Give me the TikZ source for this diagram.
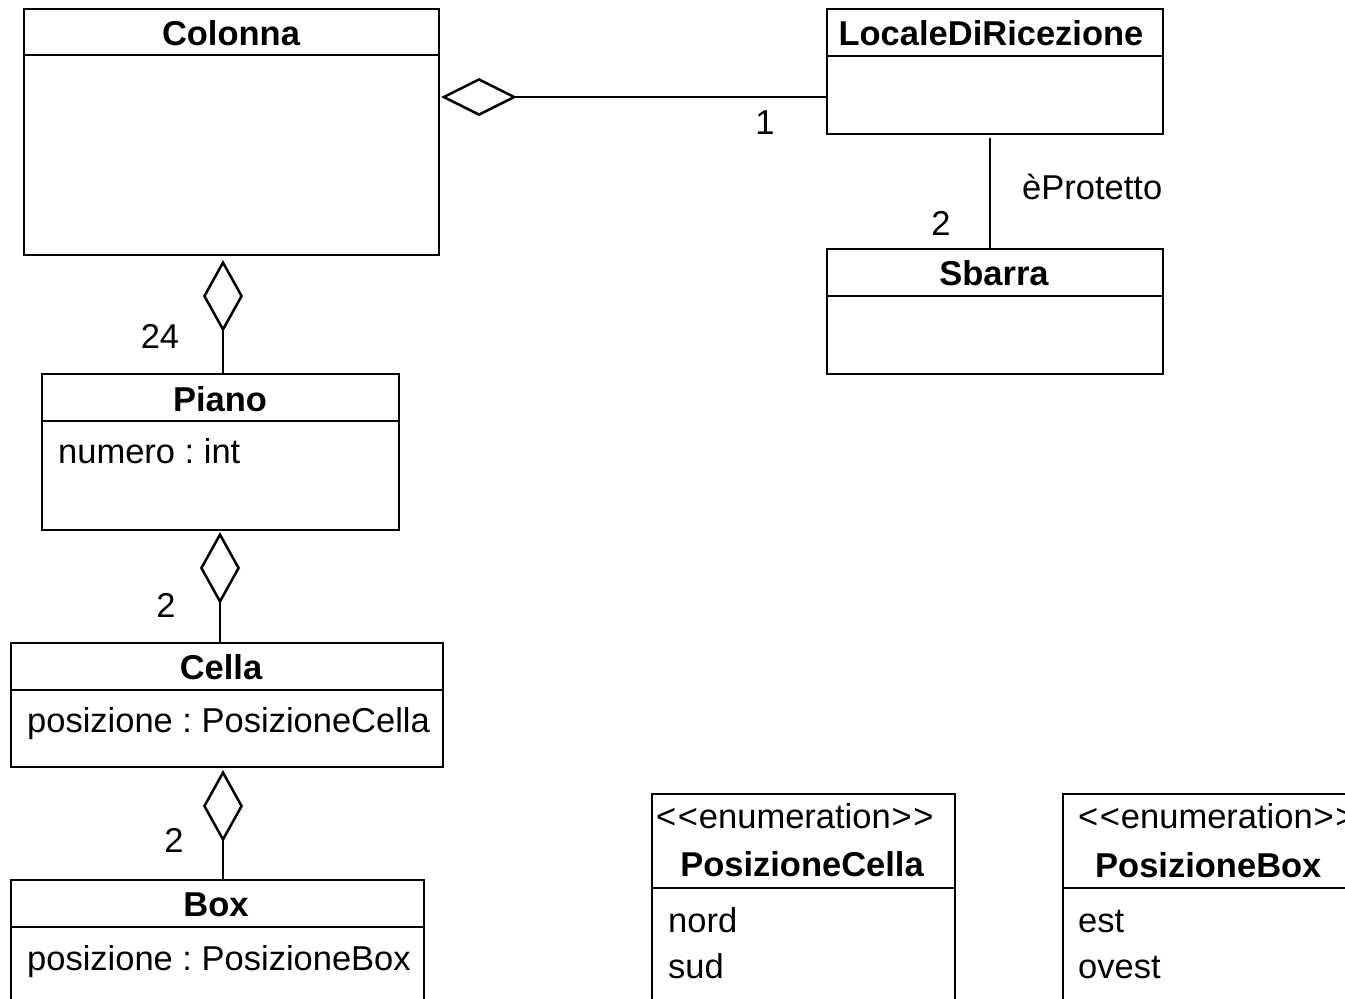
\documentclass[tikz,border=0pt]{standalone}
\usepackage{fontspec}
\setmainfont{Liberation Sans}
\usetikzlibrary{arrows.meta}
\newcommand{\stereo}[1]{<\kern1.5pt<\kern1pt#1\kern1pt>\kern1.5pt>}
\begin{document}
\frenchspacing
\begin{tikzpicture}[x=1pt,y=-1pt,
  every node/.style={font=\fontsize{34.5}{40}\selectfont},
  cls/.style={draw, line width=2.5pt, anchor=north west, inner sep=0pt, outer sep=0pt},
  sep/.style={line width=2.5pt},
  ttl/.style={anchor=base, inner sep=0pt, font=\fontsize{34.5}{40}\selectfont\bfseries},
  attr/.style={anchor=base west, inner sep=0pt},
  mult/.style={anchor=base, inner sep=0pt},
  conn/.style={line width=2.5pt},
  aggr/.style={line width=2.5pt, -{Diamond[open, length=72pt, width=40pt]}},
  aggrh/.style={line width=2.5pt, -{Diamond[open, length=76pt, width=38pt]}}
]
\useasboundingbox (0,0) rectangle (1345,999);
\clip (0,0) rectangle (1345,999);

% classes
\node[cls, minimum width=415pt, minimum height=246pt] (colonna) at (24,9) {};
\draw[sep] (colonna.west |- 0,55) -- (colonna.east |- 0,55);
\node[ttl] (tcolonna) at (231,45) {Colonna};

\node[cls, minimum width=336pt, minimum height=125pt] (locale) at (827,9) {};
\draw[sep] (locale.west |- 0,56) -- (locale.east |- 0,56);
\node[ttl] (tlocale) at (991,45) {LocaleDiRicezione};

\node[cls, minimum width=336pt, minimum height=125pt] (sbarra) at (827,249) {};
\draw[sep] (sbarra.west |- 0,296) -- (sbarra.east |- 0,296);
\node[ttl] (tsbarra) at (994,285) {Sbarra};

\node[cls, minimum width=357pt, minimum height=156pt] (piano) at (42,374) {};
\draw[sep] (piano.west |- 0,421) -- (piano.east |- 0,421);
\node[ttl] (tpiano) at (220,411) {Piano};
\node[attr] (apiano) at (58,463) {numero : int};

\node[cls, minimum width=432pt, minimum height=124pt] (cella) at (11,643) {};
\draw[sep] (cella.west |- 0,690) -- (cella.east |- 0,690);
\node[ttl] (tcella) at (221,679) {Cella};
\node[attr] (acella) at (27,732) {posizione : PosizioneCella};

\node[cls, minimum width=413pt, minimum height=140pt] (box) at (11,880) {};
\draw[sep] (box.west |- 0,927) -- (box.east |- 0,927);
\node[ttl] (tbox) at (216,916) {Box};
\node[attr] (abox) at (27,970) {posizione : PosizioneBox};

% enumerations
\node[cls, minimum width=303pt, minimum height=230pt] (ecella) at (652,794) {};
\draw[sep] (ecella.west |- 0,888) -- (ecella.east |- 0,888);
\node[attr] (secella) at (656,828) {\stereo{enumeration}};
\node[ttl] (tecella) at (802,876) {PosizioneCella};
\node[attr] (v1cella) at (668,932) {nord};
\node[attr] (v2cella) at (668,978) {sud};

\node[cls, minimum width=312pt, minimum height=230pt] (ebox) at (1063,794) {};
\draw[sep] (ebox.west |- 0,888) -- (ebox.east |- 0,888);
\node[attr] (sebox) at (1078,828) {\stereo{enumeration}};
\node[attr, font=\fontsize{34.5}{40}\selectfont\bfseries] (tebox) at (1095,877) {PosizioneBox};
\node[attr] (v1box) at (1078,932) {est};
\node[attr] (v2box) at (1078,978) {ovest};

% connectors
\draw[aggrh, shorten >=2pt] (locale.west |- 0,97) -- (colonna.east |- 0,97);
\draw[conn, shorten >=4pt] (sbarra.north -| 990,0) -- (locale.south -| 990,0);
\draw[aggr, shorten >=5pt] (piano.north -| 223,0) -- (colonna.south -| 223,0);
\draw[aggr, shorten >=2pt] (cella.north -| 220,0) -- (piano.south -| 220,0);
\draw[aggr, shorten >=3pt] (box.north -| 223,0) -- (cella.south -| 223,0);

% labels
\node[mult] (m1) at (765,134) {1};
\node[attr] (lprot) at (1022,199) {èProtetto};
\node[mult] (m2) at (941,235) {2};
\node[mult] (m24) at (160,348) {24};
\node[mult] (m2b) at (166,617) {2};
\node[mult] (m2c) at (174,852) {2};
\end{tikzpicture}
\end{document}
